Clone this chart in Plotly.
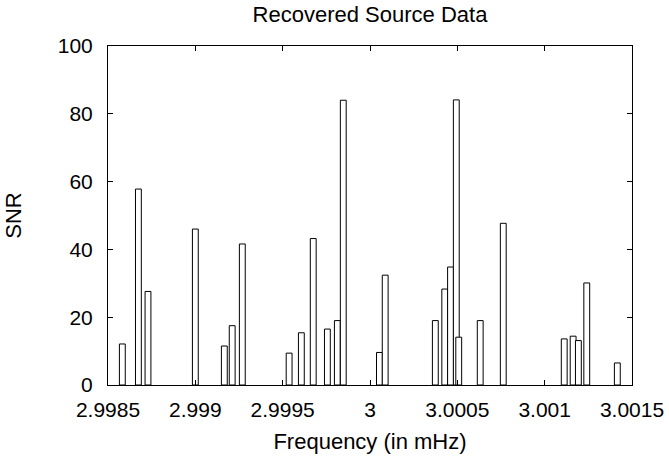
import plotly.graph_objects as go

freq = [2.998582, 2.998674, 2.998729, 2.999000, 2.999166, 2.999211, 2.999269,
        2.999537, 2.999607, 2.999675, 2.999756, 2.999813, 2.999847,
        3.000054, 3.000087, 3.000374, 3.000428, 3.000461, 3.000494, 3.000508,
        3.000631, 3.000763, 3.001112, 3.001163, 3.001193, 3.001241, 3.001416]
snr = [12.1, 57.8, 27.6, 46.0, 11.5, 17.5, 41.6,
       9.4, 15.4, 43.2, 16.5, 19.0, 84.0,
       9.6, 32.4, 19.0, 28.3, 34.8, 84.1, 14.1,
       19.0, 47.7, 13.6, 14.4, 13.1, 30.1, 6.5]

x_ticks = [2.9985, 2.999, 2.9995, 3.0, 3.0005, 3.001, 3.0015]
x_labels = ["2.9985", "2.999", "2.9995", "3", "3.0005", "3.001", "3.0015"]
y_ticks = [0, 20, 40, 60, 80, 100]

FONT = "Liberation Sans, Arial, Helvetica, sans-serif"

fig = go.Figure()
fig.add_trace(go.Bar(
    x=freq, y=snr, width=[0.0000335] * len(freq),
    marker=dict(color="white", line=dict(color="black", width=1)),
    showlegend=False,
))

fig.update_layout(
    width=669, height=456,
    margin=dict(l=108, r=37, t=46, b=71, autoexpand=False),
    paper_bgcolor="white", plot_bgcolor="white",
    font=dict(family=FONT, size=21, color="black"),
    barmode="overlay",
    title=dict(text="Recovered Source Data", x=(108 + 632) / 2 / 669, xanchor="center",
               y=1 - 14 / 456, yanchor="middle", font=dict(size=22)),
    xaxis=dict(range=[2.9985, 3.0015], tickvals=x_ticks, ticktext=x_labels,
               ticks="inside", ticklen=5, tickcolor="black", showline=True,
               linecolor="black", linewidth=1, mirror="ticks", showgrid=False,
               zeroline=False, automargin=False, ticklabelstandoff=6,
               title=dict(text="Frequency (in mHz)", standoff=13, font=dict(size=22))),
    yaxis=dict(range=[0, 100], tickvals=y_ticks,
               ticks="inside", ticklen=5, tickcolor="black", showline=True,
               linecolor="black", linewidth=1, mirror="ticks", showgrid=False,
               zeroline=False, automargin=False, ticklabelstandoff=10,
               title=dict(text="SNR", standoff=30, font=dict(size=22))),
)

fig.write_html("out.html", config={"displayModeBar": False},
               post_script="document.body.style.margin='0';document.body.style.overflow='hidden';")
